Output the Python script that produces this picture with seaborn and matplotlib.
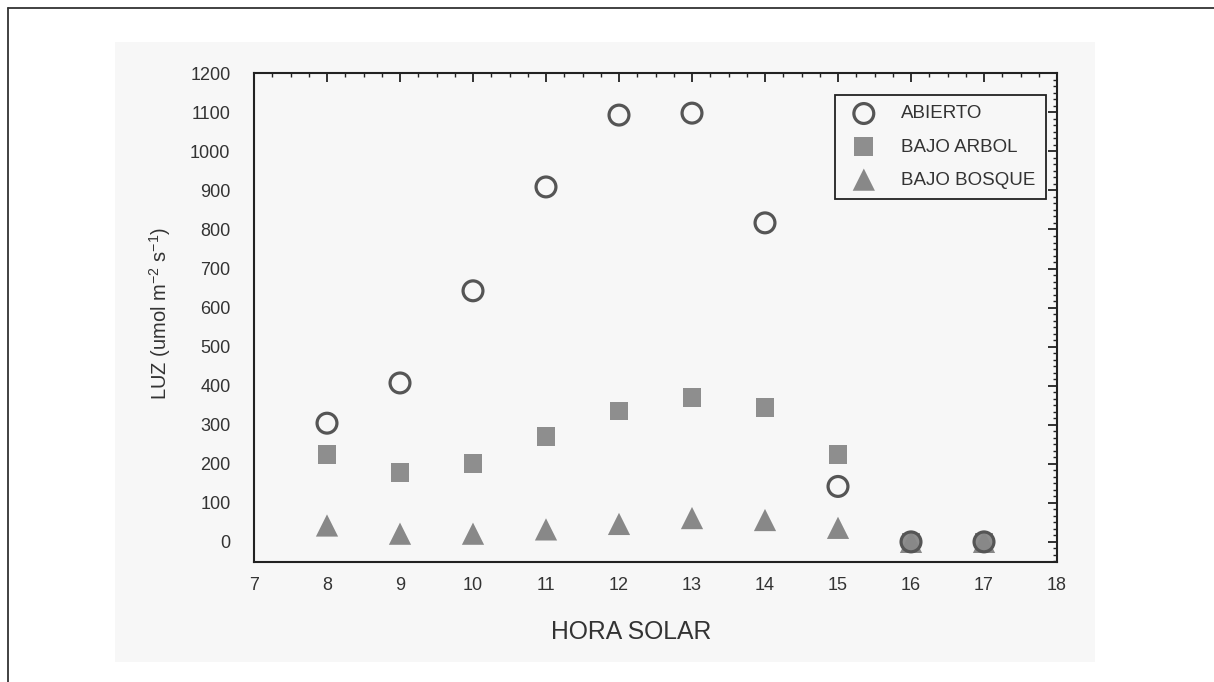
import numpy as np
import pandas as pd
import matplotlib
matplotlib.use("Agg")
import matplotlib.pyplot as plt
from matplotlib.lines import Line2D
from matplotlib.patches import Rectangle
from matplotlib.ticker import MultipleLocator, AutoMinorLocator
import seaborn as sns

# Solar hour and light readings (umol m-2 s-1) for three sites
hora = [8, 9, 10, 11, 12, 13, 14, 15, 16, 17]
abierto = [304, 407, 643, 909, 1093, 1098, 817, 142, 0, 0]
bajo_arbol = [223, 177, 201, 270, 335, 370, 345, 223, 0, 0]
bajo_bosque = [42, 21, 21, 32, 46, 61, 56, 36, 0, 0]
series_names = ["ABIERTO", "BAJO ARBOL", "BAJO BOSQUE"]

df = pd.DataFrame({"hora": hora, "ABIERTO": abierto,
                   "BAJO ARBOL": bajo_arbol, "BAJO BOSQUE": bajo_bosque})

sns.set_theme(style="white")
plt.rcParams["font.family"] = ["Liberation Sans", "DejaVu Sans"]
plt.rcParams["mathtext.fontset"] = "custom"
plt.rcParams["mathtext.rm"] = "Liberation Sans"
plt.rcParams["mathtext.it"] = "Liberation Sans"

W, H, DPI = 1214, 682, 100
fig = plt.figure(figsize=(W / DPI, H / DPI), dpi=DPI, facecolor="white")

def fx(px):
    return px / W

def fy(py):
    return 1 - py / H

# light panel behind the plot
panel_color = "#f7f7f7"
fig.patches.append(Rectangle((fx(115), fy(662)), fx(1095) - fx(115), fy(42) - fy(662),
                             transform=fig.transFigure, facecolor=panel_color,
                             edgecolor="none", zorder=-10))
# page frame lines
fig.lines.append(Line2D([fx(8), fx(8)], [fy(8), 0], transform=fig.transFigure,
                        color="#333333", lw=1.3, zorder=-5))
fig.lines.append(Line2D([fx(8), 1], [fy(8), fy(8)], transform=fig.transFigure,
                        color="#333333", lw=1.3, zorder=-5))

left, right, top, bottom = 254, 1057, 73.3, 562
ax = fig.add_axes([fx(left), fy(bottom), fx(right) - fx(left), fy(top) - fy(bottom)])
ax.set_facecolor(panel_color)

sq_color = "#8e8e8e"
tri_color = "#888888"
circ_color = "#555555"

sns.scatterplot(data=df, x="hora", y="BAJO ARBOL", marker="s", s=13.5 ** 2,
                color=sq_color, edgecolor="none", linewidth=0, label="BAJO ARBOL",
                ax=ax, zorder=3)
sns.scatterplot(data=df, x="hora", y="BAJO BOSQUE", marker="^", s=16 ** 2,
                color=tri_color, edgecolor="none", linewidth=0, label="BAJO BOSQUE",
                ax=ax, zorder=3)
sns.scatterplot(data=df, x="hora", y="ABIERTO", marker="o", s=14.3 ** 2,
                color="none", edgecolor=circ_color, linewidth=2.3, label="ABIERTO",
                ax=ax, zorder=4)

ax.set_xlim(7, 18)
ax.set_ylim(-51.5, 1200)
ax.xaxis.set_major_locator(MultipleLocator(1))
ax.xaxis.set_minor_locator(AutoMinorLocator(4))
ax.set_yticks(np.arange(0, 1201, 100))
ax.yaxis.set_minor_locator(AutoMinorLocator(6))

for sp in ax.spines.values():
    sp.set_visible(True)
    sp.set_color("#222222")
    sp.set_linewidth(1.5)

ax.tick_params(which="both", direction="in", top=True, right=True,
               color="#222222", labelcolor="#333333")
ax.tick_params(which="major", length=6.5, width=1.3)
ax.tick_params(which="minor", length=2.8, width=1.0)
ax.tick_params(axis="y", which="major", labelsize=13, pad=17)
ax.tick_params(axis="x", which="major", labelsize=13, pad=11)

ax.set_xlabel("")
ax.set_ylabel("")
fig.text(fx(631), fy(632), "HORA SOLAR", ha="center", va="center",
         fontsize=17.8, color="#333333")
fig.text(fx(160), fy(314), r"LUZ (umol m$^{\mathregular{-2}}$ s$^{\mathregular{-1}}$)",
         ha="center", va="center", rotation=90, fontsize=14.5, color="#333333")

handles, labels = ax.get_legend_handles_labels()
order = [labels.index(n) for n in series_names]
leg = ax.legend([handles[i] for i in order], [labels[i] for i in order],
                loc="upper right",
                bbox_to_anchor=((1046 - left) / (right - left), (bottom - 95) / (bottom - top)),
                borderaxespad=0, frameon=True, fancybox=False, framealpha=1,
                facecolor=panel_color, edgecolor="#222222", fontsize=13.5,
                labelspacing=0.85, handletextpad=1.0, borderpad=0.55,
                scatterpoints=1, labelcolor="#333333")
leg.get_frame().set_linewidth(1.3)

fig.savefig("out.png", dpi=DPI, facecolor="white")
